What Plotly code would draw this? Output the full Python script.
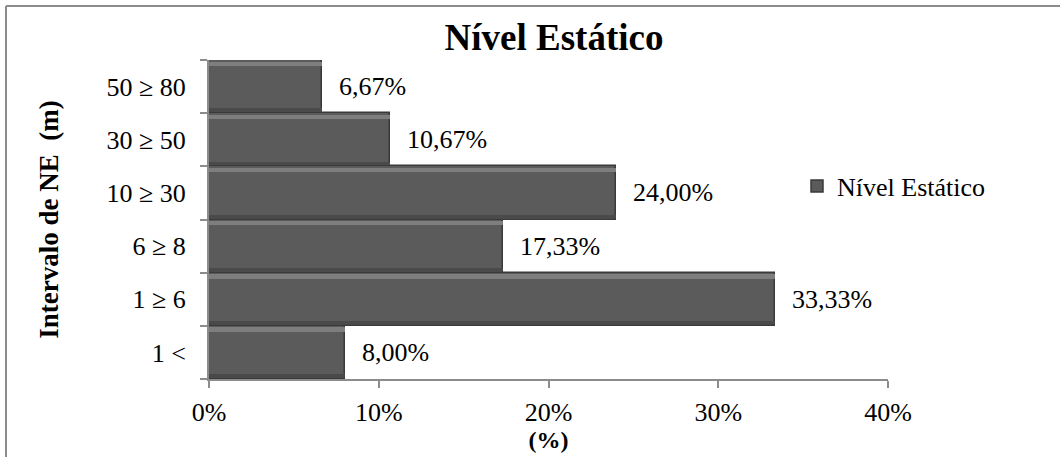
import plotly.graph_objects as go

# Static water level intervals (bottom to top) and share of wells in each
categories = ["1 <", "1 ≥ 6", "6 ≥ 8", "10 ≥ 30", "30 ≥ 50", "50 ≥ 80"]
values = [8.00, 33.33, 17.33, 24.00, 10.67, 6.67]
x_ticks = [0, 10, 20, 30, 40]
x_tick_labels = [f"{t}%" for t in x_ticks]
series_name = "Nível Estático"

SERIF = "Liberation Serif, Times New Roman, serif"
W, H = 1060, 457
L, R, T, B = 209, 172, 60, 78
pw, ph = W - L - R, H - T - B

fig = go.Figure()

# main bars
fig.add_trace(go.Bar(
    x=values, y=categories, orientation="h", name=series_name,
    marker=dict(color="#5b5b5b", line=dict(color="#3a3a3a", width=1.5)),
    width=1.0, hoverinfo="x+y", showlegend=True,
))
# bevel highlight along the top edge of each bar
fig.add_trace(go.Bar(
    x=values, y=categories, orientation="h", showlegend=False,
    marker=dict(color="#7e7e7e", line=dict(width=0)),
    width=0.08, offset=0.39, hoverinfo="skip",
))
# darker band near the bottom edge
fig.add_trace(go.Bar(
    x=values, y=categories, orientation="h", showlegend=False,
    marker=dict(color="#4a4a4a", line=dict(width=0)),
    width=0.06, offset=-0.47, hoverinfo="skip",
))

# value labels next to each bar
for c, v in zip(categories, values):
    fig.add_annotation(
        x=v, y=c, xref="x", yref="y",
        text=f"{v:.2f}".replace(".", ",") + "%",
        showarrow=False, xanchor="left", yanchor="middle",
        xshift=14, bgcolor="white", borderpad=2,
        font=dict(family=SERIF, size=26, color="black"),
    )

# chart frame: left and top edges
frame = dict(color="#8c8c8c", width=2)
fig.add_shape(type="line", xref="paper", yref="paper",
              x0=(6 - L) / pw, x1=(6 - L) / pw,
              y0=(H - B - H - 5) / ph, y1=(H - B - 6) / ph, line=frame)
fig.add_shape(type="line", xref="paper", yref="paper",
              x0=(6 - L) / pw, x1=(W + 5 - L) / pw,
              y0=(H - B - 6) / ph, y1=(H - B - 6) / ph, line=frame)

fig.update_layout(
    width=W, height=H,
    margin=dict(l=L, r=R, t=T, b=B),
    paper_bgcolor="white", plot_bgcolor="white",
    barmode="overlay", bargap=0,
    font=dict(family=SERIF, color="black"),
    title=dict(
        text="<b>Nível Estático</b>", x=554 / W, xanchor="center",
        y=1 - 37 / H, yanchor="middle", yref="container",
        font=dict(family=SERIF, size=37, color="black"),
    ),
    legend=dict(
        x=(797 - L) / pw, y=(H - B - 186) / ph, xanchor="left", yanchor="middle",
        font=dict(family=SERIF, size=26, color="black"),
        bgcolor="rgba(0,0,0,0)", itemwidth=30,
    ),
    xaxis=dict(
        range=[0, 40], tickvals=x_ticks, ticktext=x_tick_labels,
        showgrid=False, zeroline=False,
        showline=True, linecolor="#8c8c8c", linewidth=2,
        ticks="outside", ticklen=7, tickcolor="#8c8c8c", tickwidth=2,
        tickfont=dict(family=SERIF, size=26, color="black"),
        ticklabelstandoff=2,
        title=dict(text="<b>(%)</b>", font=dict(family=SERIF, size=24, color="black"), standoff=0),
    ),
    yaxis=dict(
        type="category", categoryorder="array", categoryarray=categories,
        showgrid=False, zeroline=False,
        showline=True, linecolor="#8c8c8c", linewidth=2,
        ticks="outside", ticklen=7, tickcolor="#8c8c8c", tickwidth=2,
        tickson="boundaries",
        tickfont=dict(family=SERIF, size=26, color="black"),
        ticklabelstandoff=16,
        title=dict(text="<b>Intervalo de NE  (m)</b>", font=dict(family=SERIF, size=27, color="black"), standoff=40),
    ),
)

fig.write_html("out.html")
